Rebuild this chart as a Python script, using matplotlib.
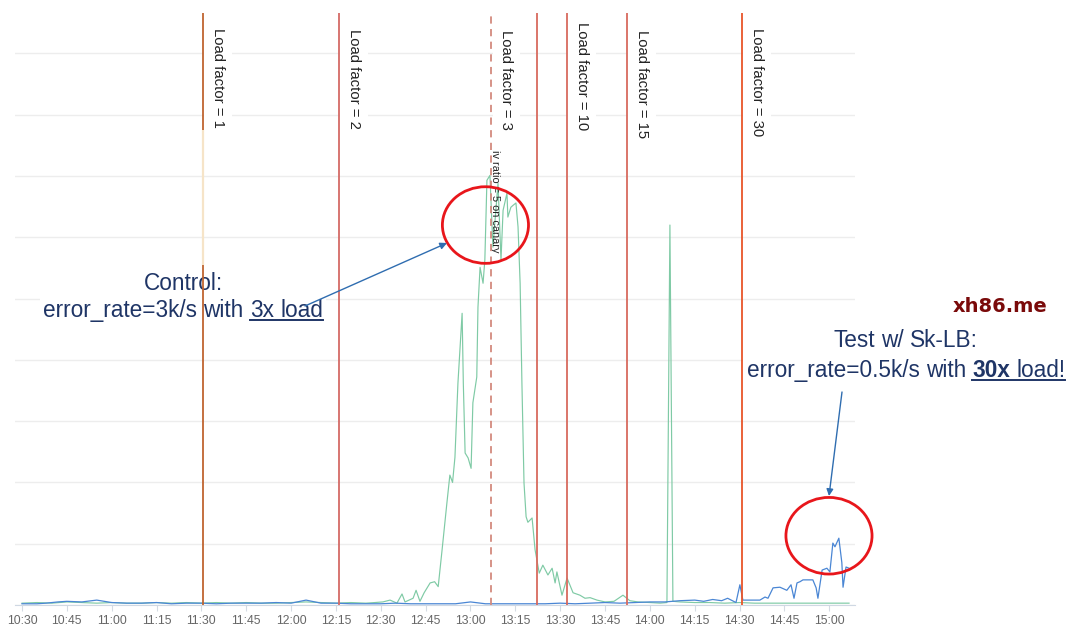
import matplotlib
matplotlib.use('Agg')
import matplotlib.pyplot as plt
from matplotlib.patches import Ellipse

FONT = ['Liberation Sans', 'DejaVu Sans']
NAVY = '#1f3566'

# minutes after 10:30, values in gridline units
green_t = [0, 5, 10, 15, 20, 25, 30, 35, 40, 45, 50, 55, 60, 65, 70, 75,
           80, 85, 90, 95, 100, 105, 110, 115, 118, 120.7, 123.1, 125.4,
           127.1, 128.1, 130.8, 131.8, 133.1, 134.5, 136.5, 138.0, 139.2,
           140.5, 142.1, 143.1, 144.0, 144.8, 145.8, 147.2, 147.6, 148.2,
           149.2, 150.2, 150.8, 152.1, 152.5, 153.2, 154.2, 154.8, 155.5,
           156.5, 157.5, 159.2, 160.2, 160.9, 162.2, 162.5, 163.5, 164.2,
           165.2, 165.9, 166.6, 167.2, 167.9, 168.6, 169.2, 170.6, 171.6,
           173.0, 174.2, 175.9, 177.3, 178.3, 178.9, 180.6, 182.3, 184.3,
           186.6, 188.3, 190, 192.3, 195, 198, 201, 203.3, 206, 210, 213.4,
           215.7, 216.7, 217.7, 220, 225, 230, 235, 240, 245, 250, 255,
           260, 265, 270, 276.6]
green_v = [0.03, 0.04, 0.03, 0.05, 0.04, 0.03, 0.04, 0.03, 0.03, 0.04,
           0.03, 0.04, 0.03, 0.04, 0.03, 0.04, 0.03, 0.03, 0.04, 0.05,
           0.04, 0.03, 0.04, 0.03, 0.04, 0.05, 0.08, 0.03,
           0.18, 0.05, 0.11, 0.24, 0.06, 0.20, 0.36, 0.38, 0.30,
           0.90, 1.66, 2.12, 2.00, 2.41, 3.62, 4.76, 3.62, 2.48,
           2.40, 2.23, 3.30, 3.72, 4.86, 5.51, 5.25, 5.63, 6.93,
           7.01, 5.84, 6.88, 5.63, 6.44, 6.72, 6.33, 6.49, 6.52,
           6.56, 6.17, 5.25, 3.62, 1.99, 1.44, 1.35, 1.42, 0.90,
           0.52, 0.65, 0.49, 0.60, 0.36, 0.54, 0.16, 0.44, 0.20,
           0.16, 0.11, 0.12, 0.08, 0.05, 0.06, 0.16, 0.07, 0.05, 0.04, 0.03,
           0.04, 6.20, 0.06, 0.05, 0.04, 0.04, 0.03, 0.04, 0.03, 0.03, 0.03,
           0.03, 0.03, 0.03, 0.03]

blue_t = [0, 5, 8, 12, 15, 20, 25, 30, 35, 40, 45, 50, 55, 60, 65, 70, 75,
          80, 85, 90, 92, 95, 100, 105, 110, 115, 120, 125, 130, 135, 140,
          145, 150, 155, 160, 165, 170, 175, 180, 185, 190, 195, 200, 205,
          210, 215, 220, 225, 228, 231, 234, 236, 238.8, 240.1, 241.1,
          243.5, 246.8, 248.5, 249.5, 251.2, 253.5, 255.8, 257.2, 258.2,
          259.2, 260.2, 261.2, 264.5, 265.6, 266.2, 267.6, 269.2, 270.2,
          271.2, 271.9, 273.2, 274.2, 274.6, 275.6, 276.6]
blue_v = [0.02, 0.02, 0.03, 0.05, 0.06, 0.05, 0.08, 0.04, 0.03, 0.03, 0.04,
          0.02, 0.03, 0.03, 0.02, 0.03, 0.03, 0.03, 0.04, 0.03, 0.05, 0.08,
          0.03, 0.03, 0.02, 0.02, 0.02, 0.03, 0.02, 0.02, 0.02, 0.02, 0.05,
          0.02, 0.02, 0.02, 0.02, 0.02, 0.03, 0.02, 0.03, 0.04, 0.03, 0.04,
          0.05, 0.05, 0.07, 0.08, 0.06, 0.09, 0.07, 0.11, 0.04, 0.33, 0.08,
          0.08, 0.08, 0.13, 0.11, 0.28, 0.29, 0.24, 0.33, 0.11,
          0.36, 0.38, 0.41, 0.41, 0.28, 0.11, 0.57, 0.60, 0.54,
          1.01, 0.95, 1.09, 0.69, 0.29, 0.62, 0.60]

tick_min = list(range(0, 271, 15))
tick_labels = ['10:30', '10:45', '11:00', '11:15', '11:30', '11:45', '12:00',
               '12:15', '12:30', '12:45', '13:00', '13:15', '13:30', '13:45',
               '14:00', '14:15', '14:30', '14:45', '15:00']

event_t = [60.5, 106, 157, 172.2, 182.3, 202.3, 240.8]
event_colors = ['#bf6430', '#d46a66', '#d38a7e', '#d86a5e', '#d86a5e',
                '#d86a5e', '#e8552a']
event_styles = ['-', '-', (0, (4, 3)), '-', '-', '-', '-']

label_t = [60.5, 106, 157, 182.3, 202.3, 240.8]
label_text = ['Load factor = 1', 'Load factor = 2', 'Load factor = 3',
              'Load factor = 10', 'Load factor = 15', 'Load factor = 30']
label_top = [9.41, 9.40, 9.38, 9.51, 9.39, 9.41]

fig = plt.figure(figsize=(10.8, 6.3), dpi=100)
ax = fig.add_axes([15 / 1080, 25 / 630, 840 / 1080, 592 / 630])
ax.set_xlim(-2.34, 278.6)
ax.set_ylim(0, 9.66)

ax.set_axisbelow(True)
ax.set_yticks(range(0, 10))
ax.grid(axis='y', color='#ededed', lw=1)
ax.tick_params(axis='y', length=0, labelleft=False)
ax.set_xticks(tick_min)
ax.set_xticklabels(tick_labels, fontsize=8.8, color='#666666',
                   family=FONT)
ax.tick_params(axis='x', length=4, color='#d5dbe3', pad=3)
for s in ['left', 'right', 'top']:
    ax.spines[s].set_visible(False)
ax.spines['bottom'].set_color('#cfd8e3')

ax.plot(green_t, green_v, color='#7fcaa5', lw=0.85, zorder=2)
ax.plot(blue_t, blue_v, color='#4a86d4', lw=0.9, zorder=2.2)

# event lines
for t, c, ls in zip(event_t, event_colors, event_styles):
    ax.axvline(t, color=c, ls=ls, lw=1.3, zorder=4)
# pale stretch on the first line
ax.vlines(event_t[0], 5.55, 7.75, color='#f6e4c8', lw=1.6, zorder=4.1)

for t, s, top in zip(label_t, label_text, label_top):
    ax.text(t + 5, top, s, rotation=-90, ha='center', va='top',
            fontsize=10.7, color='#222222', family=FONT, zorder=3,
            bbox=dict(boxstyle='square,pad=0.45', fc='white', ec='none'))

ax.text(158.3, 7.43, 'iv ratio = 5 on canary', rotation=-90, ha='center',
        va='top', fontsize=7.9, color='#222222', family=FONT, zorder=3)

# red circles
for c in [(155.0, 6.2), (269.9, 1.13)]:
    ax.add_patch(Ellipse(c, 28.8, 1.25, fill=False, ec='#e8161b', lw=2,
                         zorder=5, clip_on=False))

fig.canvas.draw()
renderer = fig.canvas.get_renderer()
W, H = fig.bbox.width, fig.bbox.height
FS = 16.3


def measure(s, weight='normal'):
    t = fig.text(0, 0, s, fontsize=FS, fontweight=weight, family=FONT)
    w = t.get_window_extent(renderer).width
    t.remove()
    return w


SPACE = measure('a a') - measure('aa')


def rich_line(cx, base, pieces, under_from=None):
    """pieces: list of (text, weight); centred at cx, baseline at base (px)."""
    widths = [measure(s, w) for s, w in pieces]
    total = sum(widths) + SPACE * (len(pieces) - 1)
    x = cx - total / 2
    starts = []
    for (s, w), wd in zip(pieces, widths):
        starts.append(x)
        ax.text(x / W, 1 - base / H, s, transform=fig.transFigure,
                fontsize=FS, fontweight=w, family=FONT, color=NAVY,
                ha='left', va='baseline', zorder=3,
                bbox=dict(boxstyle='square,pad=0.15', fc='white', ec='none'))
        x += wd + SPACE
    if under_from is not None:
        x0 = starts[under_from]
        x1 = starts[-1] + widths[-1]
        ax.plot([x0 / W, x1 / W], [1 - (base + 3) / H] * 2,
                transform=fig.transFigure, color=NAVY, lw=1.4, zorder=3.5,
                clip_on=False)


rich_line(183, 290, [('Control:', 'normal')])
rich_line(183, 317, [('error_rate=3k/s', 'normal'), ('with', 'normal'),
                     ('3x', 'normal'), ('load', 'normal')], under_from=2)
rich_line(906, 347, [('Test', 'normal'), ('w/', 'normal'),
                     ('Sk-LB:', 'normal')])
rich_line(906, 377, [('error_rate=0.5k/s', 'normal'), ('with', 'normal'),
                     ('30x', 'bold'), ('load!', 'normal')], under_from=2)

arrow = dict(arrowstyle='-|>', color='#2f6db0', lw=1, mutation_scale=10,
             shrinkA=0, shrinkB=0)
ax.annotate('', xy=(447, 630 - 243), xytext=(305, 630 - 306),
            xycoords='figure pixels', textcoords='figure pixels',
            arrowprops=arrow, zorder=6)
ax.annotate('', xy=(829, 630 - 496), xytext=(842, 630 - 392),
            xycoords='figure pixels', textcoords='figure pixels',
            arrowprops=arrow, zorder=6)

fig.text(1000 / W, 1 - 307 / H, 'xh86.me', fontsize=14, fontweight='bold',
         family='DejaVu Sans', color='#7a0a0a', ha='center', va='center')

fig.savefig('out.png', dpi=100)
